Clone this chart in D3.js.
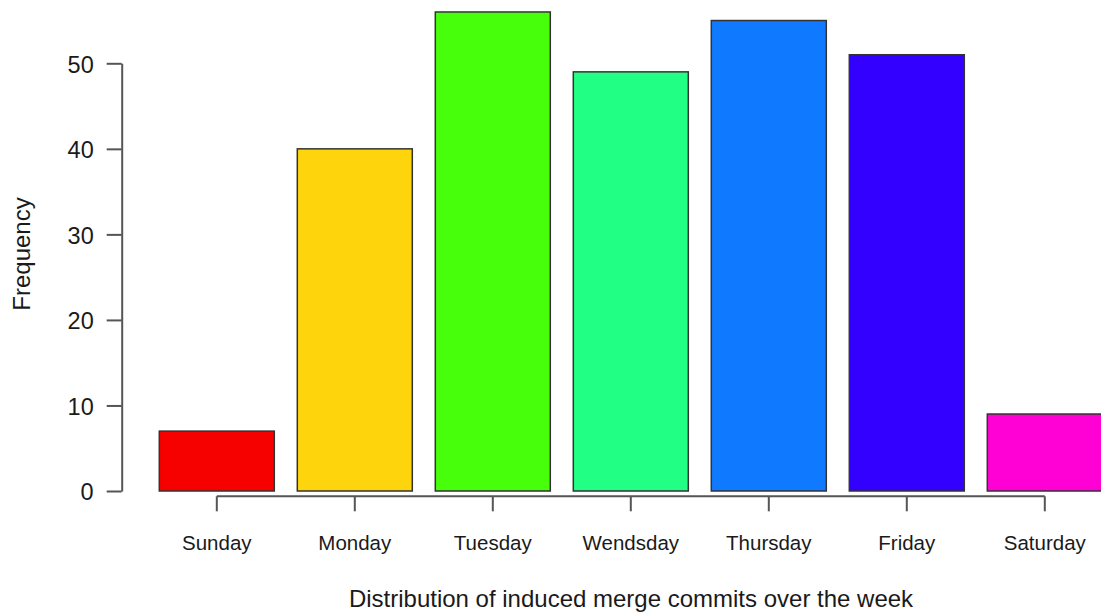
<!DOCTYPE html>
<html>
<head>
<meta charset="utf-8">
<script src="https://cdn.jsdelivr.net/npm/d3@7"></script>
<style>
  html, body { margin: 0; padding: 0; background: #fff; overflow: hidden; }
  svg { display: block; font-family: "Liberation Sans", Arial, Helvetica, sans-serif; }
</style>
</head>
<body>
<svg id="chart" width="1101" height="613"></svg>
<script>
const days = ["Sunday", "Monday", "Tuesday", "Wendsday", "Thursday", "Friday", "Saturday"];
const frequency = [7, 40, 56, 49, 55, 51, 9];
const barColors = ["#F70000", "#FED40C", "#47FF0A", "#22FF85", "#0F7AFF", "#3300FF", "#FF00D5"];
const yTicks = [0, 10, 20, 30, 40, 50];
const xTitle = "Distribution of induced merge commits over the week";
const yTitle = "Frequency";

const svg = d3.select("#chart");
const textColor = "#1a1a1a";
const axisColor = "#555";

const x = d3.scaleBand()
  .domain(days)
  .range([147.8, 1113.8])
  .paddingInner(1 / 6)
  .paddingOuter(1 / 12);

const y = d3.scaleLinear().domain([0, 50]).range([491, 63.3]);

// Bars
svg.append("g")
  .selectAll("rect")
  .data(days)
  .join("rect")
  .attr("x", d => x(d))
  .attr("y", (d, i) => y(frequency[i]))
  .attr("width", x.bandwidth())
  .attr("height", (d, i) => y(0) - y(frequency[i]))
  .attr("fill", (d, i) => barColors[i])
  .attr("stroke", "#333")
  .attr("stroke-width", 1.5);

// Y axis
const yAxis = svg.append("g")
  .attr("transform", "translate(121.7,0)")
  .call(d3.axisLeft(y).tickValues(yTicks).tickSize(15).tickSizeOuter(0).tickPadding(13));
yAxis.select(".domain").attr("stroke", axisColor).attr("stroke-width", 2);
yAxis.selectAll(".tick line").attr("stroke", axisColor).attr("stroke-width", 2);
yAxis.selectAll(".tick text")
  .attr("fill", textColor)
  .style("font-size", "23.5px")
  .attr("dy", "0.37em");

// X axis
const xAxis = svg.append("g")
  .attr("transform", "translate(0,496.3)")
  .call(d3.axisBottom(x).tickSize(15).tickSizeOuter(0).tickPadding(24));
xAxis.select(".domain").remove();
xAxis.append("line")
  .attr("x1", x(days[0]) + x.bandwidth() / 2)
  .attr("x2", x(days[days.length - 1]) + x.bandwidth() / 2)
  .attr("y1", 0).attr("y2", 0)
  .attr("stroke", axisColor).attr("stroke-width", 2);
xAxis.selectAll(".tick line").attr("stroke", axisColor).attr("stroke-width", 2);
xAxis.selectAll(".tick text")
  .attr("fill", textColor)
  .style("font-size", "20.5px");

// Axis titles
svg.append("text")
  .attr("x", 631)
  .attr("y", 607)
  .attr("text-anchor", "middle")
  .attr("fill", textColor)
  .style("font-size", "24px")
  .text(xTitle);

svg.append("text")
  .attr("transform", "translate(30,254) rotate(-90)")
  .attr("text-anchor", "middle")
  .attr("fill", textColor)
  .style("font-size", "24px")
  .text(yTitle);
</script>
</body>
</html>
